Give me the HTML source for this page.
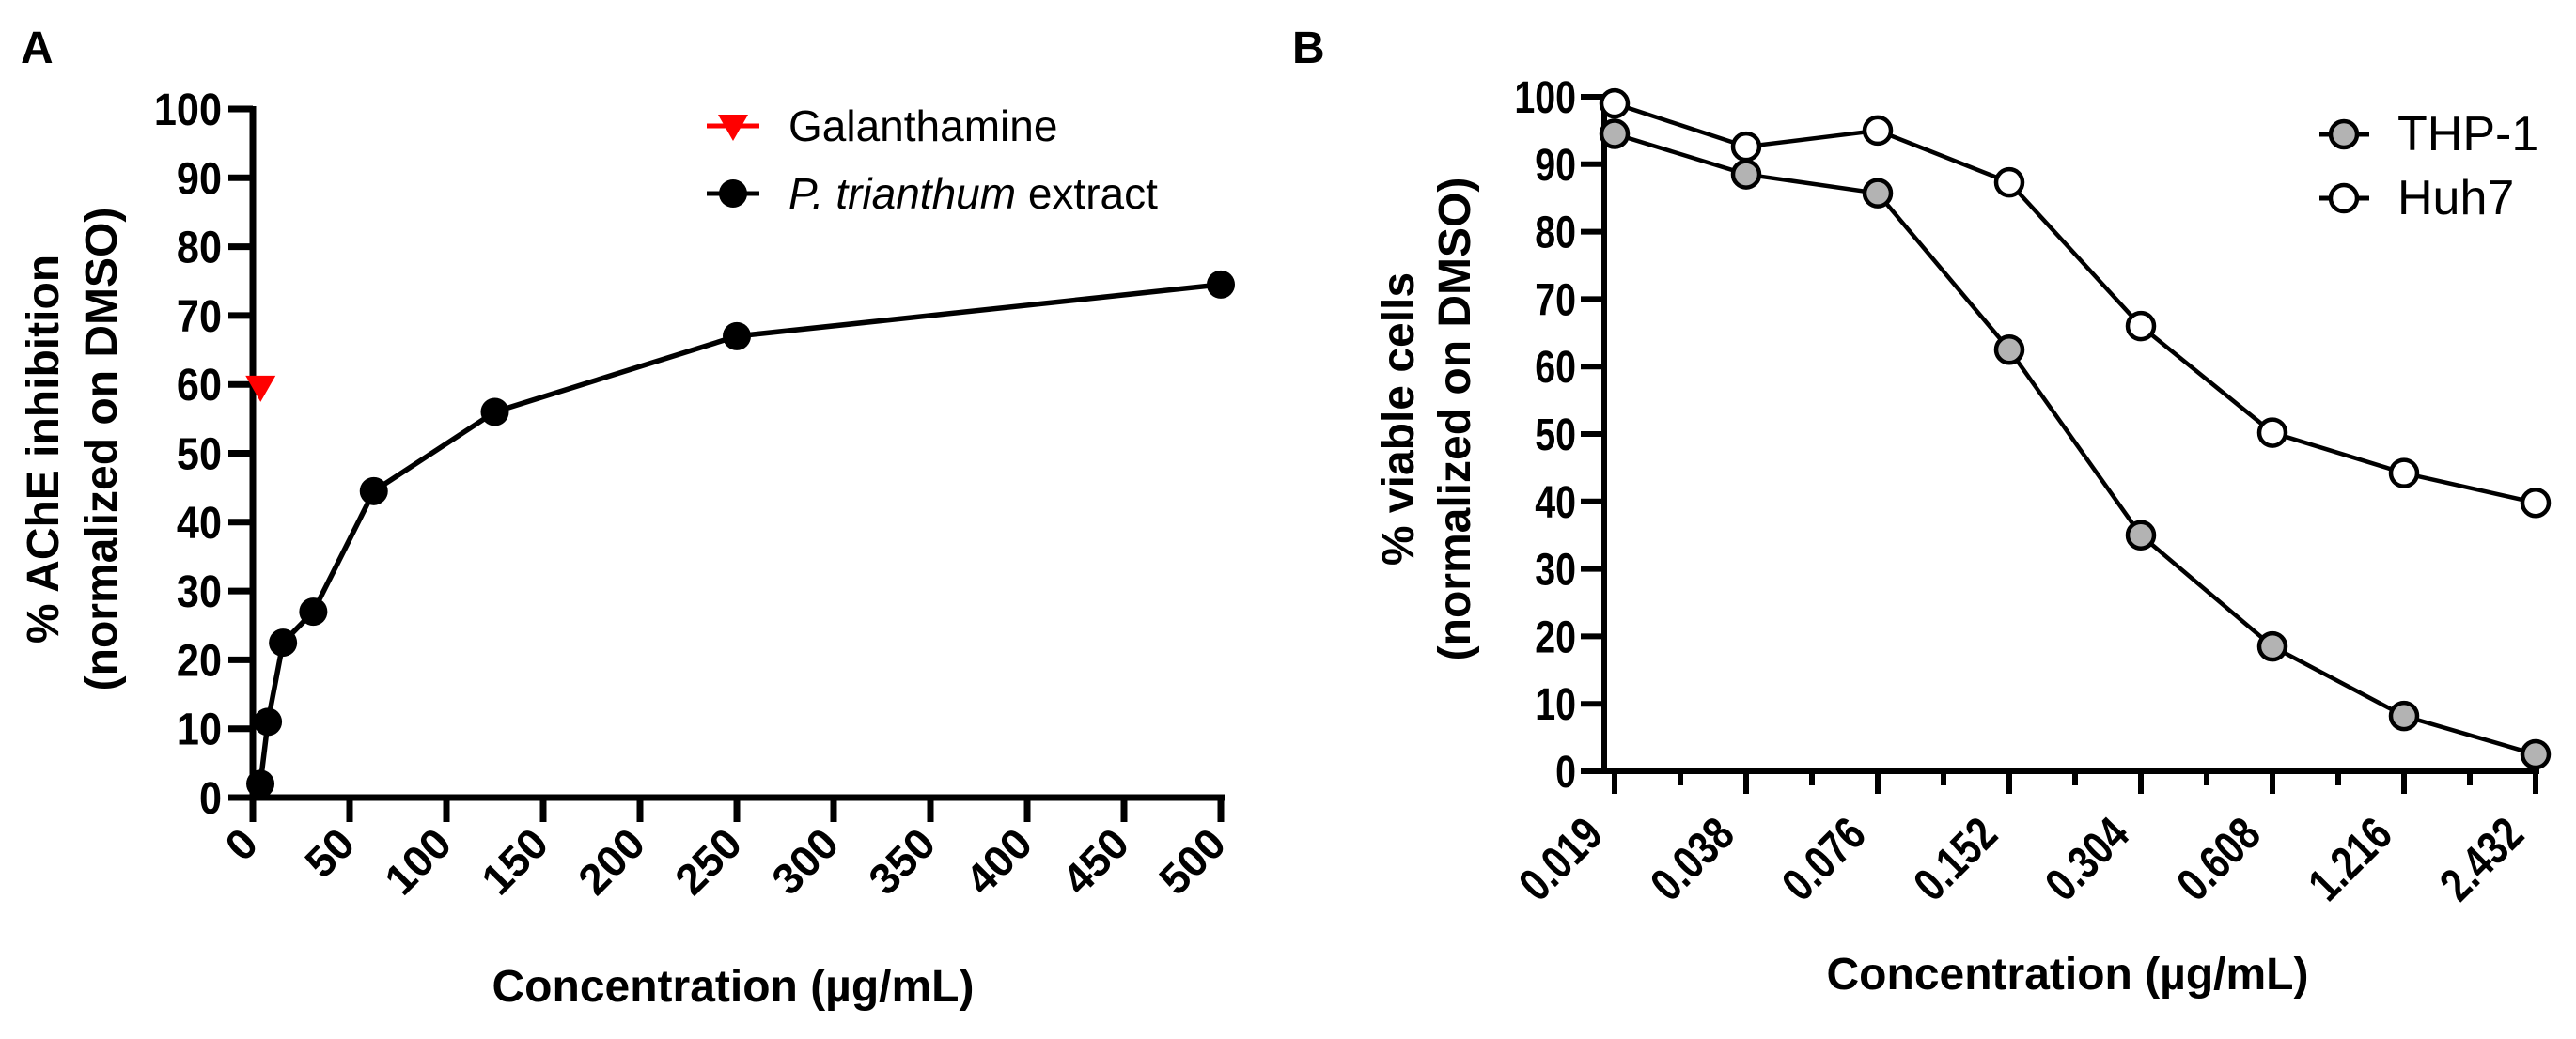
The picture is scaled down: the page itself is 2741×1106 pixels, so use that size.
<!DOCTYPE html>
<html><head><meta charset="utf-8"><style>
html,body{margin:0;padding:0;background:#fff;}
svg text{font-family:"Liberation Sans",Arial,sans-serif;}
</style></head><body>
<svg id="fig" width="2741" height="1101" viewBox="0 0 2741 1101" xmlns="http://www.w3.org/2000/svg">
<g id="A"></g>
<g id="B"></g>
</svg>
<script>
// Panel A data
const aConc = [3.9, 7.8, 15.6, 31.25, 62.5, 125, 250, 500];
const aInhib = [2, 11, 22.5, 27, 44.5, 56, 67, 74.5];
const galConc = [4];
const galInhib = [59.5];
const aXTicks = [0,50,100,150,200,250,300,350,400,450,500];
const aYTicks = [0,10,20,30,40,50,60,70,80,90,100];
// Panel B data
const bCats = ["0.019","0.038","0.076","0.152","0.304","0.608","1.216","2.432"];
const thp1 = [94.5, 88.5, 85.7, 62.5, 35, 18.5, 8.2, 2.5];
const huh7 = [99, 92.6, 95, 87.3, 66, 50.2, 44.2, 39.8];
const bYTicks = [0,10,20,30,40,50,60,70,80,90,100];

const NS="http://www.w3.org/2000/svg";
function mk(parent,tag,attrs,text){const e=document.createElementNS(NS,tag);for(const k in attrs)e.setAttribute(k,attrs[k]);if(text!==undefined)e.textContent=text;parent.appendChild(e);return e;}

// ---------- Panel A ----------
const A=document.getElementById('A');
const ax=v=>269+v*(1030/500), ay=v=>849-v*7.33;
let t=mk(A,'text',{x:22,y:67,'font-size':48,'font-weight':'bold'},'A');


let l=mk(A,'line',{x1:ax(0),y1:ay(100)-3,x2:ax(0),y2:ay(0)+3,stroke:'#000','stroke-width':7});


l=mk(A,'line',{x1:ax(0)-25,y1:ay(0),x2:ax(500)+4,y2:ay(0),stroke:'#000','stroke-width':7});


aYTicks.forEach(v=>{
  const k=mk(A,'line',{x1:ax(0)-26,y1:ay(v),x2:ax(0),y2:ay(v),stroke:'#000','stroke-width':7});
  
  
  const tx=mk(A,'text',{x:236,y:ay(v)+17,'font-size':48,'font-weight':'bold','text-anchor':'end',transform:`translate(236 0) scale(0.9 1) translate(-236 0)`},String(v));
  
  
});
aXTicks.forEach(v=>{
  const k=mk(A,'line',{x1:ax(v),y1:ay(0),x2:ax(v),y2:ay(0)+26,stroke:'#000','stroke-width':7});
  
  
  const x=ax(v)+8, y=ay(0)+52;
  const tx=mk(A,'text',{x:x,y:y,'font-size':46,'font-weight':'bold','text-anchor':'end',transform:`rotate(-45 ${x} ${y})`},String(v));
  
  
});
t=mk(A,'text',{x:0,y:0,'font-size':48,'font-weight':'bold','text-anchor':'middle',transform:'translate(62 478) rotate(-90)'},'% AChE inhibition');


t=mk(A,'text',{x:0,y:0,'font-size':48,'font-weight':'bold','text-anchor':'middle',transform:'translate(124 478) rotate(-90)'},'(normalized on DMSO)');


t=mk(A,'text',{x:780,y:1066,'font-size':48,'font-weight':'bold','text-anchor':'middle'},'Concentration (µg/mL)');


let p=mk(A,'polyline',{points:aConc.map((c,i)=>ax(c)+','+ay(aInhib[i])).join(' '),fill:'none',stroke:'#000','stroke-width':5.5});


aConc.forEach((c,i)=>{
  const m=mk(A,'circle',{cx:ax(c),cy:ay(aInhib[i]),r:15,fill:'#000'});
  
  
});
galConc.forEach((c,i)=>{
  const cx=ax(c), cy=ay(galInhib[i]);
  const m=mk(A,'polygon',{points:`${cx-16},${cy-13} ${cx+16},${cy-13} ${cx},${cy+15}`,fill:'#ff0000'});
  
  
});
// legend A
let g=mk(A,'g',{});


mk(g,'line',{x1:752,y1:134,x2:808,y2:134,stroke:'#ff0000','stroke-width':5});
mk(g,'polygon',{points:'764,122 796,122 780,150',fill:'#ff0000'});
mk(g,'text',{x:839,y:150,'font-size':46},'Galanthamine');
g=mk(A,'g',{});


mk(g,'line',{x1:752,y1:206,x2:808,y2:206,stroke:'#000','stroke-width':5});
mk(g,'circle',{cx:780,cy:206,r:15,fill:'#000'});
const lt=mk(g,'text',{x:839,y:222,'font-size':46});
mk(lt,'tspan',{'font-style':'italic'},'P. trianthum');
mk(lt,'tspan',{},' extract');

// ---------- Panel B ----------
const B=document.getElementById('B');
const bx=i=>1718+i*140, by=v=>821-v*7.18;
t=mk(B,'text',{x:1375,y:67,'font-size':48,'font-weight':'bold'},'B');


l=mk(B,'line',{x1:1707,y1:by(100)-3,x2:1707,y2:by(0)+3,stroke:'#000','stroke-width':6});


l=mk(B,'line',{x1:1682,y1:by(0),x2:bx(7)+4,y2:by(0),stroke:'#000','stroke-width':6});


bYTicks.forEach(v=>{
  const k=mk(B,'line',{x1:1682,y1:by(v),x2:1707,y2:by(v),stroke:'#000','stroke-width':6});
  
  
  const tx=mk(B,'text',{x:1677,y:by(v)+17,'font-size':48,'font-weight':'bold','text-anchor':'end',transform:`translate(1677 0) scale(0.82 1) translate(-1677 0)`},String(v));
  
  
});
bCats.forEach((c,i)=>{
  const k=mk(B,'line',{x1:bx(i),y1:by(0),x2:bx(i),y2:by(0)+24,stroke:'#000','stroke-width':6});
  
  
  if(i<7){const mn=mk(B,'line',{x1:bx(i)+70,y1:by(0),x2:bx(i)+70,y2:by(0)+15,stroke:'#000','stroke-width':6});
  
  }
  const x=bx(i)-10, y=by(0)+70;
  const tx=mk(B,'text',{x:x,y:y,'font-size':50,'font-weight':'bold','text-anchor':'end',transform:`rotate(-45 ${x} ${y}) translate(${x} 0) scale(0.8 1) translate(${-x} 0)`},c);
  
  
});
t=mk(B,'text',{x:0,y:0,'font-size':48,'font-weight':'bold','text-anchor':'middle',transform:'translate(1504 446) rotate(-90)'},'% viable cells');


t=mk(B,'text',{x:0,y:0,'font-size':48,'font-weight':'bold','text-anchor':'middle',transform:'translate(1564 446) rotate(-90)'},'(normalized on DMSO)');


t=mk(B,'text',{x:2200,y:1053,'font-size':48,'font-weight':'bold','text-anchor':'middle'},'Concentration (µg/mL)');


[[huh7,'#fff','huh7'],[thp1,'#b3b3b3','thp1']].forEach(([vals,fill,nm])=>{
  const pl=mk(B,'polyline',{points:vals.map((v,i)=>bx(i)+','+by(v)).join(' '),fill:'none',stroke:'#000','stroke-width':4.5});
  
  
});
[[thp1,'#b3b3b3','thp1'],[huh7,'#fff','huh7']].forEach(([vals,fill,nm])=>{
  vals.forEach((v,i)=>{
    const m=mk(B,'circle',{cx:bx(i),cy:by(v),r:14,fill:fill,stroke:'#000','stroke-width':4.5});
    
    
  });
});
g=mk(B,'g',{});


mk(g,'line',{x1:2468,y1:143,x2:2521,y2:143,stroke:'#000','stroke-width':5});
mk(g,'circle',{cx:2494,cy:143,r:14,fill:'#b3b3b3',stroke:'#000','stroke-width':4.5});
mk(g,'text',{x:2551,y:160,'font-size':52},'THP-1');
g=mk(B,'g',{});


mk(g,'line',{x1:2468,y1:211,x2:2521,y2:211,stroke:'#000','stroke-width':5});
mk(g,'circle',{cx:2494,cy:211,r:14,fill:'#fff',stroke:'#000','stroke-width':4.5});
mk(g,'text',{x:2551,y:228,'font-size':52},'Huh7');
</script>
</body></html>
